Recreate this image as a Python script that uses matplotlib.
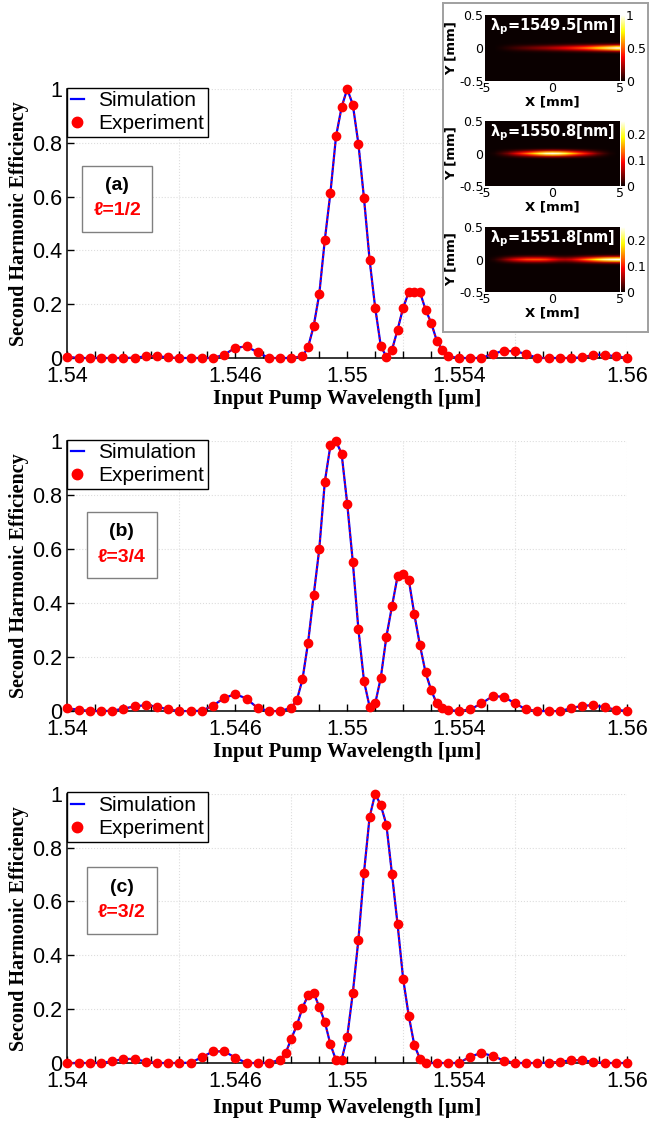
import numpy as np
import matplotlib.pyplot as plt
from matplotlib.lines import Line2D
from matplotlib.patches import Rectangle

plt.rcParams['font.family'] = ['Liberation Sans', 'DejaVu Sans']

# ---- main curves (wavelength in um, normalised SH efficiency) ----
wl_a = [1.5400, 1.5404, 1.5408, 1.5412, 1.5416, 1.5420, 1.5424, 1.5428, 1.5432, 1.5436,
        1.5440, 1.5444, 1.5448, 1.5452, 1.5456, 1.5460, 1.5464, 1.5468, 1.5472, 1.5476,
        1.5480, 1.5484, 1.5486, 1.5488, 1.5490, 1.5492, 1.5494, 1.5496, 1.5498, 1.5500,
        1.5502, 1.5504, 1.5506, 1.5508, 1.5510, 1.5512, 1.5514, 1.5516, 1.5518, 1.5520,
        1.5522, 1.5524, 1.5526, 1.5528, 1.5530, 1.5532, 1.5534, 1.5536, 1.5540, 1.5544,
        1.5548, 1.5552, 1.5556, 1.5560, 1.5564, 1.5568, 1.5572, 1.5576, 1.5580, 1.5584,
        1.5588, 1.5592, 1.5596, 1.5600]
eff_a = [0.004, 0.0, 0.0, 0.0, 0.0, 0.0, 0.001, 0.006, 0.007, 0.002,
         0.0, 0.0, 0.0, 0.0, 0.012, 0.038, 0.043, 0.021, 0.0, 0.0,
         0.0, 0.006, 0.040, 0.118, 0.237, 0.440, 0.615, 0.824, 0.933, 1.0,
         0.942, 0.796, 0.594, 0.365, 0.187, 0.045, 0.004, 0.030, 0.105, 0.187,
         0.245, 0.247, 0.245, 0.180, 0.131, 0.065, 0.030, 0.006, 0.0, 0.0,
         0.0, 0.015, 0.027, 0.025, 0.015, 0.0, 0.0, 0.0, 0.0, 0.002,
         0.012, 0.012, 0.006, 0.0]

wl_b = [1.5400, 1.5404, 1.5408, 1.5412, 1.5416, 1.5420, 1.5424, 1.5428, 1.5432, 1.5436,
        1.5440, 1.5444, 1.5448, 1.5452, 1.5456, 1.5460, 1.5464, 1.5468, 1.5472, 1.5476,
        1.5480, 1.5482, 1.5484, 1.5486, 1.5488, 1.5490, 1.5492, 1.5494, 1.5496, 1.5498,
        1.5500, 1.5502, 1.5504, 1.5506, 1.5508, 1.5510, 1.5512, 1.5514, 1.5516, 1.5518,
        1.5520, 1.5522, 1.5524, 1.5526, 1.5528, 1.5530, 1.5532, 1.5534, 1.5536, 1.5540,
        1.5544, 1.5548, 1.5552, 1.5556, 1.5560, 1.5564, 1.5568, 1.5572, 1.5576, 1.5580,
        1.5584, 1.5588, 1.5592, 1.5596, 1.5600]
eff_b = [0.010, 0.005, 0.0, 0.0, 0.001, 0.009, 0.017, 0.022, 0.016, 0.006,
         0.0, 0.0, 0.001, 0.020, 0.048, 0.063, 0.046, 0.011, 0.0, 0.0,
         0.012, 0.041, 0.117, 0.253, 0.428, 0.599, 0.850, 0.984, 1.0, 0.953,
         0.768, 0.552, 0.303, 0.111, 0.016, 0.028, 0.123, 0.275, 0.388, 0.499,
         0.506, 0.487, 0.358, 0.244, 0.143, 0.078, 0.028, 0.011, 0.004, 0.0,
         0.006, 0.028, 0.055, 0.053, 0.028, 0.006, 0.0, 0.0, 0.0, 0.010,
         0.020, 0.021, 0.014, 0.005, 0.0]

wl_c = [1.5400, 1.5404, 1.5408, 1.5412, 1.5416, 1.5420, 1.5424, 1.5428, 1.5432, 1.5436,
        1.5440, 1.5444, 1.5448, 1.5452, 1.5456, 1.5460, 1.5464, 1.5468, 1.5472, 1.5476,
        1.5478, 1.5480, 1.5482, 1.5484, 1.5486, 1.5488, 1.5490, 1.5492, 1.5494, 1.5496,
        1.5498, 1.5500, 1.5502, 1.5504, 1.5506, 1.5508, 1.5510, 1.5512, 1.5514, 1.5516,
        1.5518, 1.5520, 1.5522, 1.5524, 1.5526, 1.5528, 1.5532, 1.5536, 1.5540, 1.5544,
        1.5548, 1.5552, 1.5556, 1.5560, 1.5564, 1.5568, 1.5572, 1.5576, 1.5580, 1.5584,
        1.5588, 1.5592, 1.5596, 1.5600]
eff_c = [0.0, 0.0, 0.0, 0.0, 0.006, 0.015, 0.015, 0.005, 0.0, 0.0,
         0.0, 0.001, 0.021, 0.043, 0.043, 0.020, 0.0, 0.0, 0.0, 0.012,
         0.037, 0.090, 0.140, 0.205, 0.251, 0.261, 0.208, 0.152, 0.069, 0.010,
         0.012, 0.097, 0.260, 0.458, 0.707, 0.913, 1.0, 0.957, 0.885, 0.702,
         0.515, 0.312, 0.175, 0.066, 0.016, 0.0, 0.0, 0.0, 0.0, 0.024,
         0.037, 0.026, 0.009, 0.0, 0.0, 0.0, 0.001, 0.004, 0.010, 0.010,
         0.004, 0.0, 0.0, 0.0]

panel_tags = ['(a)', '(b)', '(c)']
ell_labels = ['\u2113=1/2', '\u2113=3/4', '\u2113=3/2']

x_ticks = [1.54, 1.546, 1.55, 1.554, 1.56]
x_ticklabels = ['1.54', '1.546', '1.55', '1.554', '1.56']
y_ticks = [0, 0.2, 0.4, 0.6, 0.8, 1.0]
y_ticklabels = ['0', '0.2', '0.4', '0.6', '0.8', '1']

# ---- inset SH intensity maps ----
pump_labels = ['1549.5', '1550.8', '1551.8']
map_vmax = [1.0, 0.25, 0.25]
cbar_ticks = [[0, 0.5, 1], [0, 0.1, 0.2], [0, 0.1, 0.2]]
cbar_labels = [['0', '0.5', '1'], ['0', '0.1', '0.2'], ['0', '0.1', '0.2']]
# intensity along X (-5..5 mm, 0.5 mm step)
map_x_profiles = [
    [0, 0, 0.02, 0.05, 0.08, 0.11, 0.14, 0.17, 0.20, 0.23, 0.27,
     0.31, 0.36, 0.41, 0.47, 0.54, 0.62, 0.71, 0.80, 0.90, 1.0],
    [0, 0.005, 0.02, 0.04, 0.07, 0.10, 0.13, 0.165, 0.20, 0.23, 0.24,
     0.23, 0.20, 0.165, 0.13, 0.10, 0.07, 0.04, 0.02, 0.005, 0],
    [0, 0.01, 0.03, 0.055, 0.08, 0.10, 0.115, 0.12, 0.12, 0.11, 0.09,
     0.07, 0.065, 0.075, 0.10, 0.13, 0.16, 0.19, 0.22, 0.24, 0.25],
]
# transverse profile along Y (-0.5..0.5 mm, 0.025 mm step)
map_y_profile = [0] * 17 + [0.05, 0.25, 0.65, 1.0, 0.65, 0.25, 0.05] + [0] * 17

fig = plt.figure(figsize=(6.49, 11.24), dpi=100)

panel_rects = [[0.104, 0.6815, 0.862, 0.2393],
               [0.104, 0.3674, 0.862, 0.2402],
               [0.104, 0.0543, 0.862, 0.2396]]
tag_boxes = [(0.026, 0.468, 0.125, 0.246),
             (0.034, 0.492, 0.126, 0.245),
             (0.034, 0.478, 0.126, 0.248)]
xlabel_y = [-0.152, -0.152, -0.167]

data = [(wl_a, eff_a), (wl_b, eff_b), (wl_c, eff_c)]

for i, (wl, eff) in enumerate(data):
    ax = fig.add_axes(panel_rects[i])
    ax.plot(wl, eff, color='#0000ff', lw=1.6, zorder=3, clip_on=False)
    ax.plot(wl, eff, color='#ff0000', ls=':', lw=1.2, marker='o', ms=6,
            mfc='#ff0000', mec='#ff0000', zorder=4, clip_on=False)

    ax.set_xlim(1.54, 1.56)
    ax.set_ylim(0, 1)
    for gx in [1.544, 1.548, 1.552, 1.556, 1.56]:
        ax.axvline(gx, color='#dddddd', ls=':', lw=0.8, zorder=0)
    for gy in [0.2, 0.4, 0.6, 0.8, 1.0]:
        ax.axhline(gy, color='#dddddd', ls=':', lw=0.8, zorder=0)

    ax.set_xticks(x_ticks)
    ax.set_xticklabels(x_ticklabels)
    ax.set_xticks(np.arange(1.541, 1.5595, 0.001), minor=True)
    ax.set_yticks(y_ticks)
    ax.set_yticklabels(y_ticklabels)
    ax.tick_params(axis='both', which='both', direction='in', length=5, width=1,
                   labelsize=15.5, colors='black')
    ax.tick_params(axis='x', pad=6)
    ax.tick_params(axis='y', pad=4)
    for s in ['top', 'right']:
        ax.spines[s].set_visible(False)
    for s in ['left', 'bottom']:
        ax.spines[s].set_linewidth(1.1)

    ax.set_ylabel('Second Harmonic Efficiency', family='Liberation Serif',
                  fontweight='bold', fontsize=14.5)
    ax.yaxis.set_label_coords(-0.069, 0.5)
    ax.set_xlabel('Input Pump Wavelength [\u00b5m]', family='Liberation Serif',
                  fontweight='bold', fontsize=15, va='center')
    ax.xaxis.set_label_coords(0.5, xlabel_y[i])

    handles = [Line2D([], [], color='#0000ff', lw=1.6),
               Line2D([], [], color='#ff0000', ls='none', marker='o', ms=7.5)]
    leg = ax.legend(handles, ['Simulation', 'Experiment'], loc='upper left',
                    bbox_to_anchor=(0.0, 1.005), borderaxespad=0, fontsize=15,
                    fancybox=False, framealpha=1, edgecolor='black',
                    handlelength=0.6, handletextpad=0.7, borderpad=0.18,
                    labelspacing=0.18)
    leg.get_frame().set_linewidth(1.0)

    bx, by, bw, bh = tag_boxes[i]
    ax.add_patch(Rectangle((bx, by), bw, bh, transform=ax.transAxes,
                           facecolor='white', edgecolor='#808080', lw=1.0, zorder=5))
    ax.text(bx + bw / 2, by + bh * 0.7, panel_tags[i], transform=ax.transAxes,
            ha='center', va='center', fontsize=14, fontweight='bold', zorder=6)
    ax.text(bx + bw / 2, by + bh * 0.32, ell_labels[i], transform=ax.transAxes,
            ha='center', va='center', fontsize=14, fontweight='bold',
            color='#ff0000', zorder=6)

# inset frame
frame = fig.add_axes([0.6826, 0.7046, 0.316, 0.2927])
frame.set_xticks([])
frame.set_yticks([])
for s in frame.spines.values():
    s.set_edgecolor('#a0a0a0')
    s.set_linewidth(1.4)

map_rects = [[0.7473, 0.9279, 0.2080, 0.0587],
             [0.7473, 0.8345, 0.2080, 0.0578],
             [0.7473, 0.7402, 0.2080, 0.0578]]
ypro = np.array(map_y_profile)
for i in range(3):
    r = map_rects[i]
    iax = fig.add_axes(r)
    field = np.outer(ypro, np.array(map_x_profiles[i]))
    im = iax.imshow(field, extent=[-5, 5, -0.5, 0.5], aspect='auto', cmap='hot',
                    vmin=0, vmax=map_vmax[i], interpolation='bilinear', origin='lower')
    iax.set_xticks([-5, 0, 5])
    iax.set_xticklabels(['-5', '0', '5'])
    iax.set_yticks([-0.5, 0, 0.5])
    iax.set_yticklabels(['-0.5', '0', '0.5'])
    iax.tick_params(length=0, pad=1, labelsize=9)
    for lab in iax.get_xticklabels() + iax.get_yticklabels():
        lab.set_family('DejaVu Sans')
    iax.set_xlabel('X [mm]', family='DejaVu Sans', fontweight='bold', fontsize=9.5,
                   labelpad=0)
    iax.set_ylabel('Y [mm]', family='DejaVu Sans', fontweight='bold', fontsize=9.5,
                   labelpad=1)
    for s in iax.spines.values():
        s.set_visible(False)
    iax.text(0.5, 0.98, '\u03bb$_\\mathbf{p}$=' + pump_labels[i] + '[nm]',
             transform=iax.transAxes, ha='center', va='top', color='white',
             fontsize=10.5, fontweight='bold', family='DejaVu Sans')

    cax = fig.add_axes([r[0] + r[2] + 0.0015, r[1], 0.0055, r[3]])
    cb = fig.colorbar(im, cax=cax)
    cb.outline.set_visible(False)
    cb.set_ticks(cbar_ticks[i])
    cb.set_ticklabels(cbar_labels[i])
    cax.tick_params(length=0, pad=1, labelsize=9)
    for lab in cax.get_yticklabels():
        lab.set_family('DejaVu Sans')

fig.savefig('out.png', dpi=100)
